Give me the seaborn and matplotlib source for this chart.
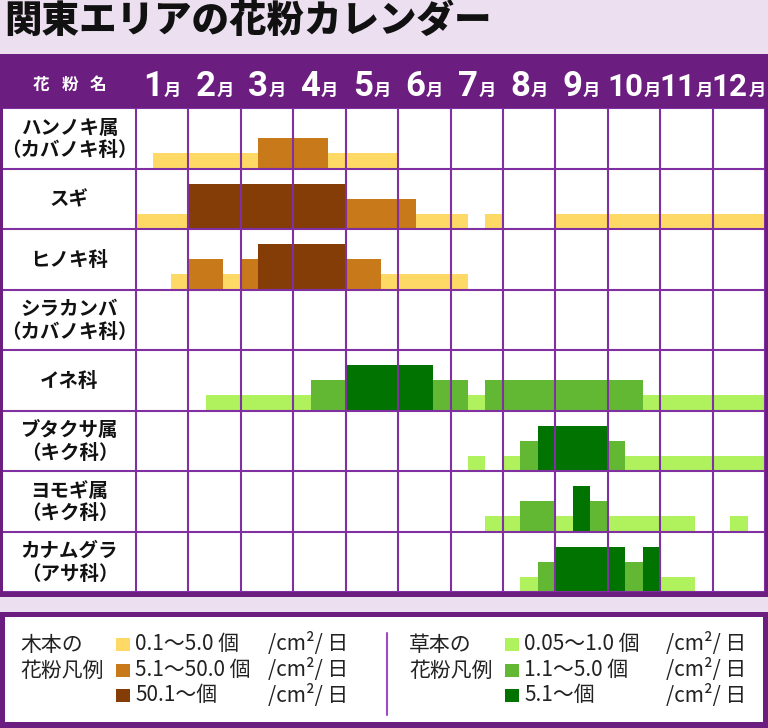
import itertools
import matplotlib
matplotlib.use("Agg")
import matplotlib.pyplot as plt
import matplotlib.transforms as mtransforms
from matplotlib.patches import Rectangle
from matplotlib.offsetbox import TextArea, HPacker, AnnotationBbox
import seaborn as sns

#%% data
# 旬ごとの飛散レベル (1月上旬〜12月下旬, 0=なし 1=少 2=中 3=多)
title = "関東エリアの花粉カレンダー"
months = [1, 2, 3, 4, 5, 6, 7, 8, 9, 10, 11, 12]
species = ["ハンノキ属\n（カバノキ科）", "スギ", "ヒノキ科", "シラカンバ\n（カバノキ科）",
           "イネ科", "ブタクサ属\n（キク科）", "ヨモギ属\n（キク科）", "カナムグラ\n（アサ科）"]
group = ["木本", "木本", "木本", "木本", "草本", "草本", "草本", "草本"]

#            1月     2月     3月     4月     5月     6月     7月     8月     9月     10月    11月    12月
hannoki    = [0,1,1, 1,1,1, 1,2,2, 2,2,1, 1,1,1, 0,0,0, 0,0,0, 0,0,0, 0,0,0, 0,0,0, 0,0,0, 0,0,0]
sugi       = [1,1,1, 3,3,3, 3,3,3, 3,3,3, 2,2,2, 2,1,1, 1,0,1, 0,0,0, 1,1,1, 1,1,1, 1,1,1, 1,1,1]
hinoki     = [0,0,1, 2,2,1, 2,3,3, 3,3,3, 2,2,1, 1,1,1, 1,0,0, 0,0,0, 0,0,0, 0,0,0, 0,0,0, 0,0,0]
shirakanba = [0,0,0, 0,0,0, 0,0,0, 0,0,0, 0,0,0, 0,0,0, 0,0,0, 0,0,0, 0,0,0, 0,0,0, 0,0,0, 0,0,0]
ine        = [0,0,0, 0,1,1, 1,1,1, 1,2,2, 3,3,3, 3,3,2, 2,1,2, 2,2,2, 2,2,2, 2,2,1, 1,1,1, 1,1,1]
butakusa   = [0,0,0, 0,0,0, 0,0,0, 0,0,0, 0,0,0, 0,0,0, 0,1,0, 1,2,3, 3,3,3, 2,1,1, 1,1,1, 1,1,1]
yomogi     = [0,0,0, 0,0,0, 0,0,0, 0,0,0, 0,0,0, 0,0,0, 0,0,1, 1,2,2, 1,3,2, 1,1,1, 1,1,0, 0,1,0]
kanamugura = [0,0,0, 0,0,0, 0,0,0, 0,0,0, 0,0,0, 0,0,0, 0,0,0, 0,1,2, 3,3,3, 3,2,3, 1,1,0, 0,0,0]
levels = [hannoki, sugi, hinoki, shirakanba, ine, butakusa, yomogi, kanamugura]

tree_labels = ["0.1～5.0 個", "5.1～50.0 個", "50.1～個"]
grass_labels = ["0.05～1.0 個", "1.1～5.0 個", "5.1～個"]
unit = "/cm²/ 日"

#%% style
tree_colors = ["#FFD966", "#C87A1A", "#853D07"]
grass_colors = ["#B0F25E", "#63B833", "#007300"]
bar_height = [0.25, 0.5, 0.75]   # 行の高さに対する割合
purple = "#6B1E7F"
line_purple = "#8030A0"
lavender = "#ECE0F0"

sns.set_theme(style="whitegrid", rc={"grid.color": line_purple, "grid.linewidth": 1.5,
                                     "axes.facecolor": "white"})
plt.rcParams["font.family"] = ["Noto Sans CJK JP", "DejaVu Sans"]
num_font = ["Liberation Sans Narrow", "Roboto", "DejaVu Sans"]

W, H = 768, 728
fig = plt.figure(figsize=(W / 100, H / 100), dpi=100, facecolor=lavender)

# 背景用 (ピクセル座標)
bg = fig.add_axes([0, 0, 1, 1], zorder=0)
bg.set_xlim(0, W)
bg.set_ylim(H, 0)
bg.axis("off")

bg.text(4, 21, title, fontsize=27, fontweight="black", va="center", ha="left", color="#111111")
bg.add_patch(Rectangle((0, 54), W, 543, facecolor=purple, edgecolor="none"))
for ch, x in zip("花粉名", [41.5, 69.5, 97.5]):
    bg.text(x, 85, ch, fontsize=12, fontweight="bold", color="white", ha="center", va="center")

#%% calendar
col_w = (765 - 136) / 12
ax = fig.add_axes([3 / W, (H - 592) / H, 762 / W, 484 / H], zorder=1)
ax.set_xlim(-(136 - 3) / col_w, 12)
ax.set_ylim(len(species), 0)
ax.set_xticks(range(13))
ax.set_yticks(range(len(species) + 1))
ax.tick_params(length=0, labelbottom=False, labelleft=False)
ax.set_axisbelow(False)
for s in ax.spines.values():
    s.set_visible(False)

for i, lv in enumerate(levels):
    colors = tree_colors if group[i] == "木本" else grass_colors
    k = 0
    for val, run in itertools.groupby(lv):
        n = len(list(run))
        if val:
            h = bar_height[val - 1]
            ax.bar(k / 3, h, width=n / 3, bottom=i + 1 - h, align="edge",
                   color=colors[val - 1], linewidth=0)
        k += n

trans_s = mtransforms.blended_transform_factory(bg.transData, ax.transData)
for i, name in enumerate(species):
    ax.text(69.5, i + 0.52, name, transform=trans_s, fontsize=14, fontweight="bold",
            ha="center", va="center", multialignment="center", linespacing=1.25,
            color="#111111", clip_on=False)

# 月ラベル: 数字は大きく、2桁は少し小さめ
trans_m = mtransforms.blended_transform_factory(ax.transData, bg.transData)
for m in months:
    size = 25 if m < 10 else 22.5
    pack = HPacker(children=[
        TextArea(str(m), textprops=dict(color="white", fontsize=size, fontweight="bold", family=num_font)),
        TextArea("月", textprops=dict(color="white", fontsize=12.5, fontweight="bold"))],
        align="baseline", pad=0, sep=0.5)
    bg.add_artist(AnnotationBbox(pack, (m - 0.5, 86.5), xycoords=trans_m, frameon=False,
                                 box_alignment=(0.5, 0.5), pad=0))

#%% legend
bg.add_patch(Rectangle((0, 612), W, 116, facecolor=purple, edgecolor="none"))
bg.add_patch(Rectangle((5, 617), W - 10, 105, facecolor="white", edgecolor="none"))
bg.plot([387, 387], [633, 715], color="#9B4DBF", lw=1.5)

row_y = [644, 670, 695]
for x0, head, labels, colors, ux in [(20, "木本の\n花粉凡例", tree_labels, tree_colors, 268),
                                     (409, "草本の\n花粉凡例", grass_labels, grass_colors, 666)]:
    bg.text(x0, 658, head, fontsize=15, ha="left", va="center", linespacing=1.2, color="#222222")
    for y, lab, c in zip(row_y, labels, colors):
        bg.add_patch(Rectangle((x0 + 96, y - 6.5), 14, 13, facecolor=c, edgecolor="none"))
        bg.text(x0 + 115, y, lab, fontsize=15, ha="left", va="center", color="#222222")
        bg.text(ux, y, unit, fontsize=15, ha="left", va="center", color="#222222")

fig.savefig("out.png", dpi=100, facecolor=lavender)
